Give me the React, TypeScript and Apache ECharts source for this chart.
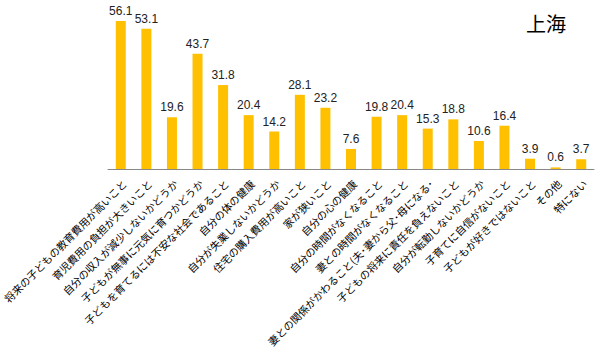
import React, { useEffect, useRef } from "react";
import * as echarts from "echarts";

const categories = [
  "将来の子どもの教育費用が高いこと",
  "育児費用の負担が大きいこと",
  "自分の収入が減少しないかどうか",
  "子どもが無事に元気に育つかどうか",
  "子どもを育てるには不安な社会であること",
  "自分の体の健康",
  "自分が失業しないかどうか",
  "住宅の購入費用が高いこと",
  "家が狭いこと",
  "自分の心の健康",
  "自分の時間がなくなること",
  "妻との時間がなくなること",
  "妻との関係がかわること(夫･妻から父･母になる･",
  "子どもの将来に責任を負えないこと",
  "自分が転勤しないかどうか",
  "子育てに自信がないこと",
  "子どもが好きではないこと",
  "その他",
  "特にない",
];

const values = [56.1, 53.1, 19.6, 43.7, 31.8, 20.4, 14.2, 28.1, 23.2, 7.6, 19.8, 20.4, 15.3, 18.8, 10.6, 16.4, 3.9, 0.6, 3.7];

const title = "上海";

export default function App() {
  const ref = useRef<HTMLDivElement>(null);
  useEffect(() => {
    if (!ref.current) return;
    const chart = echarts.init(ref.current, undefined, { renderer: "svg" });
    chart.setOption({
      animation: false,
      title: {
        text: title,
        left: 521,
        top: 8,
        textStyle: { fontSize: 20, fontWeight: "normal", color: "#000", fontFamily: "Noto Sans CJK JP" },
      },
      grid: { left: 108, right: 4, top: 10.6, bottom: 194, containLabel: false, outerBoundsMode: "none" },
      xAxis: {
        type: "category",
        data: categories,
        axisLine: { lineStyle: { color: "#888", width: 1 } },
        axisTick: { show: false },
        axisLabel: {
          interval: 0,
          rotate: 45,
          margin: 9,
          verticalAlign: "top",
          fontSize: 10.5,
          color: "#000",
          fontFamily: "Noto Sans CJK JP",
        },
      },
      yAxis: { type: "value", min: 0, max: 60, show: false },
      series: [
        {
          type: "bar",
          data: values,
          barWidth: 10,
          itemStyle: { color: "#FFC000" },
          label: {
            show: true,
            position: "top",
            distance: 4,
            fontSize: 12,
            color: "#222",
            fontFamily: "Liberation Sans",
            formatter: (p: any) => p.value.toFixed(1),
          },
        },
      ],
    });
    return () => chart.dispose();
  }, []);
  return <div ref={ref} style={{ width: 598, height: 363, position: "absolute", left: 0, top: 0 }} />;
}
